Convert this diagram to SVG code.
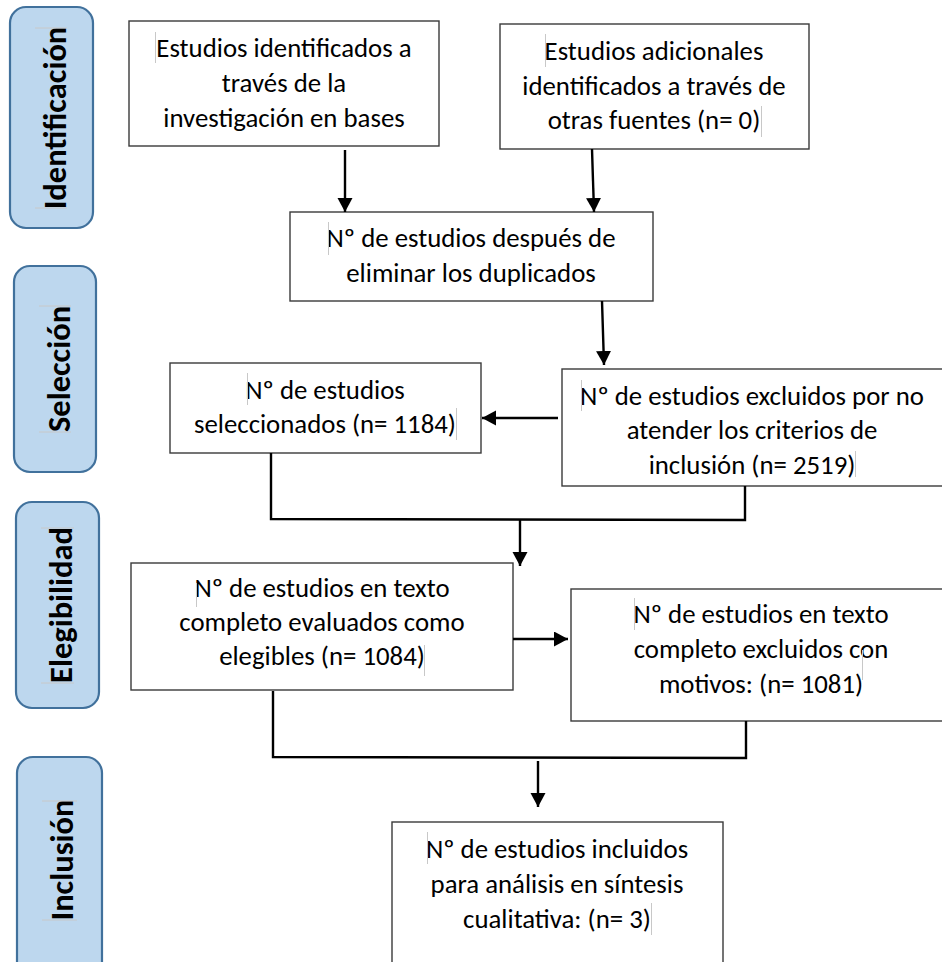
<svg xmlns="http://www.w3.org/2000/svg" width="942" height="962" viewBox="0 0 942 962">
<style>
.phase{fill:#BDD7EE;stroke:#41719C;stroke-width:2.2}
.phase-t{font-family:Carlito,Lato,"Open Sans",sans-serif;font-weight:bold;font-size:32.5px;fill:#000;text-anchor:middle}
.box{fill:#fff;stroke:#3a3a3a;stroke-width:1.4}
.t{font-family:Carlito,Lato,"Open Sans",sans-serif;font-size:26.8px;fill:#000;text-anchor:middle}
.mark{stroke:#c8c8c8;stroke-width:1;fill:none}
.conn{stroke:#000;stroke-width:2.4;fill:none}
</style>
<defs>
<marker id="ah" markerUnits="userSpaceOnUse" markerWidth="16" markerHeight="16" refX="14" refY="7.5" orient="auto">
<path d="M0,0 L14,7.5 L0,15 Z" fill="#000"/>
</marker>
</defs>
<rect width="942" height="962" fill="#fff"/>

<g id="phase-identificacion">
<rect class="phase" x="10" y="7" width="83" height="221" rx="16"/>
<text class="phase-t" transform="translate(66,118) rotate(-90)">Identificación</text>
<path class="mark" d="M35,28 H67 M35,208 H67"/>
</g>
<g id="phase-seleccion">
<rect class="phase" x="14" y="266" width="82" height="206" rx="16"/>
<text class="phase-t" transform="translate(70,369) rotate(-90)">Selección</text>
<path class="mark" d="M39,306 H71 M39,432 H71"/>
</g>
<g id="phase-elegibilidad">
<rect class="phase" x="16" y="502" width="83" height="206" rx="16"/>
<text class="phase-t" transform="translate(72,605) rotate(-90)">Elegibilidad</text>
<path class="mark" d="M41,528 H74 M41,683 H74"/>
</g>
<g id="phase-inclusion">
<rect class="phase" x="17" y="757" width="85" height="230" rx="16"/>
<text class="phase-t" transform="translate(73,860) rotate(-90)">Inclusión</text>
<path class="mark" d="M42,801 H77 M42,920 H77"/>
</g>

<g id="node-identificados">
<rect class="box" x="129" y="21" width="310" height="125"/>
<text class="t" x="284" y="57">Estudios identificados a</text>
<text class="t" x="284" y="92">través de la</text>
<text class="t" x="284" y="127">investigación en bases</text>
<path class="mark" d="M155.5,32 V63"/>
</g>
<g id="node-adicionales">
<rect class="box" x="500" y="24" width="309" height="125"/>
<text class="t" x="654" y="60">Estudios adicionales</text>
<text class="t" x="654" y="95">identificados a través de</text>
<text class="t" x="654" y="129">otras fuentes (n= 0)</text>
<path class="mark" d="M545.5,34 V67 M761.5,106 V137"/>
</g>
<g id="node-duplicados">
<rect class="box" x="290" y="212" width="363" height="89"/>
<text class="t" x="471" y="247">Nº de estudios después de</text>
<text class="t" x="471" y="282">eliminar los duplicados</text>
<path class="mark" d="M328.5,222 V255"/>
</g>
<g id="node-seleccionados">
<rect class="box" x="170" y="363" width="311" height="90"/>
<text class="t" x="325" y="399">Nº de estudios</text>
<text class="t" x="325" y="433">seleccionados (n= 1184)</text>
<path class="mark" d="M247.5,373 V405 M456.5,408 V440"/>
</g>
<g id="node-excluidos-criterios">
<rect class="box" x="562" y="369" width="390" height="117"/>
<text class="t" x="752" y="405">Nº de estudios excluidos por no</text>
<text class="t" x="752" y="439">atender los criterios de</text>
<text class="t" x="752" y="474">inclusión (n= 2519)</text>
<path class="mark" d="M581.5,380 V411 M855.5,451 V477"/>
</g>
<g id="node-elegibles">
<rect class="box" x="131" y="563" width="382" height="127"/>
<text class="t" x="322" y="597">Nº de estudios en texto</text>
<text class="t" x="322" y="631">completo evaluados como</text>
<text class="t" x="322" y="665">elegibles (n= 1084)</text>
<path class="mark" d="M196.5,583 V607 M424.5,645 V676"/>
</g>
<g id="node-excluidos-motivos">
<rect class="box" x="571" y="589" width="390" height="132"/>
<text class="t" x="761" y="623">Nº de estudios en texto</text>
<text class="t" x="761" y="658">completo excluidos con</text>
<text class="t" x="761" y="693">motivos: (n= 1081)</text>
<path class="mark" d="M634.5,598 V630 M862.5,650 V680"/>
</g>
<g id="node-incluidos">
<rect class="box" x="392" y="822" width="331" height="160"/>
<text class="t" x="557" y="858">Nº de estudios incluidos</text>
<text class="t" x="557" y="893">para análisis en síntesis</text>
<text class="t" x="557" y="928">cualitativa: (n= 3)</text>
<path class="mark" d="M427.5,832 V864 M651.5,903 V935"/>
</g>

<g id="connectors">
<line class="conn" x1="345" y1="150" x2="345" y2="212" marker-end="url(#ah)"/>
<line class="conn" x1="592" y1="149" x2="594" y2="212" marker-end="url(#ah)"/>
<line class="conn" x1="602" y1="301" x2="604" y2="365" marker-end="url(#ah)"/>
<line class="conn" x1="558" y1="418" x2="482" y2="418" marker-end="url(#ah)"/>
<polyline class="conn" points="271,453 271,519 745,520 745,486"/>
<line class="conn" x1="520" y1="520" x2="520" y2="566" marker-end="url(#ah)"/>
<line class="conn" x1="513" y1="639" x2="568" y2="639" marker-end="url(#ah)"/>
<polyline class="conn" points="273,691 273,757 746,758 746,721"/>
<line class="conn" x1="538" y1="761" x2="538" y2="807" marker-end="url(#ah)"/>
</g>
</svg>
